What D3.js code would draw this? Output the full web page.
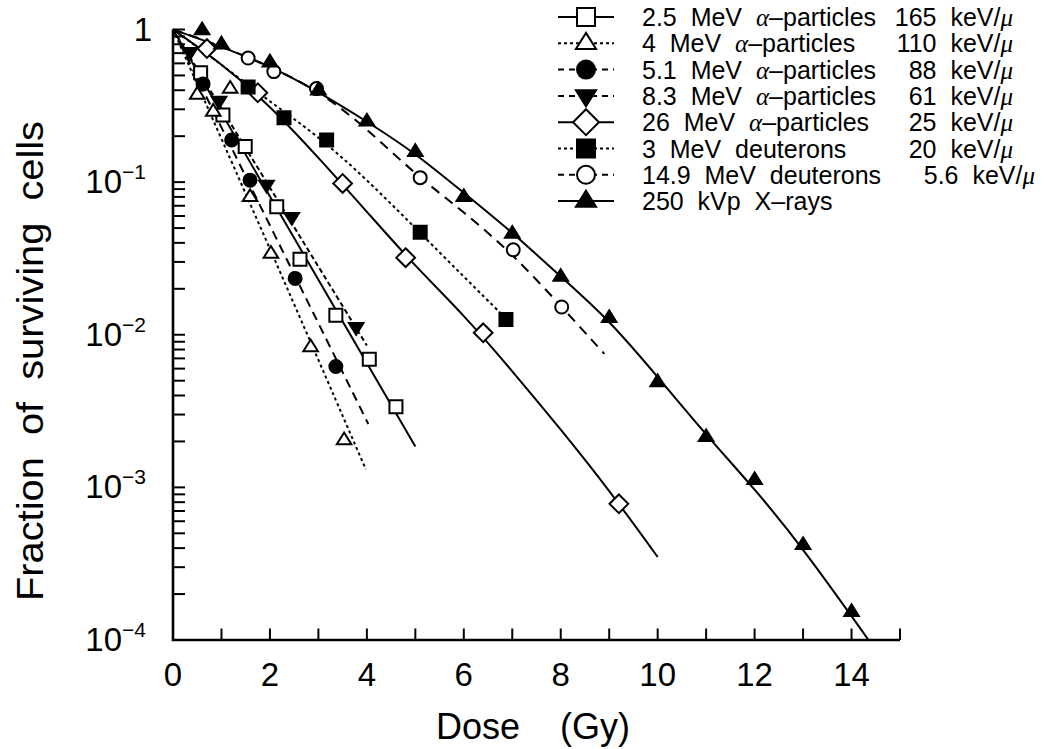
<!DOCTYPE html>
<html><head><meta charset="utf-8">
<script src="https://cdn.jsdelivr.net/npm/d3@7"></script>
<style>
body{margin:0;background:#fff}
text{font-family:"Liberation Sans",Arial,Helvetica,sans-serif;fill:#000}
</style>
</head><body>
<svg id="chart" width="1048" height="749"></svg>
<script>
// ---------------- DATA ----------------
const xTickValues = [0, 2, 4, 6, 8, 10, 12, 14];
const yDecadeExps = [0, -1, -2, -3, -4];

const seriesNames = ["2.5  MeV  α–particles", "4  MeV  α–particles", "5.1  MeV  α–particles",
  "8.3  MeV  α–particles", "26  MeV  α–particles", "3  MeV  deuterons", "14.9  MeV  deuterons", "250  kVp  X–rays"];
const seriesLET = ["165", "110", "88", "61", "25", "20", "5.6", ""];

// 2.5 MeV alpha (open square, solid)
const a25Dose = [0.57, 1.03, 1.49, 2.14, 2.62, 3.36, 4.05, 4.6];
const a25SF   = [0.52, 0.275, 0.171, 0.069, 0.0312, 0.0134, 0.0069, 0.00337];
const a25FitDose = [0, 2.5, 5.0];
const a25FitSF   = [1, 0.043, 0.00185];

// 4 MeV alpha (open triangle, dotted)
const a4Dose = [0.5, 0.83, 1.18, 1.59, 2.02, 2.84, 3.53];
const a4SF   = [0.375, 0.29, 0.41, 0.080, 0.034, 0.0083, 0.00204];
const a4FitDose = [0, 2.0, 3.98];
const a4FitSF   = [1, 0.037, 0.00131];

// 5.1 MeV alpha (filled circle, long dash)
const a51Dose = [0.62, 1.21, 1.59, 2.52, 3.36];
const a51SF   = [0.44, 0.189, 0.103, 0.0234, 0.0062];
const a51FitDose = [0, 2.0, 4.03];
const a51FitSF   = [1, 0.052, 0.0026];

// 8.3 MeV alpha (filled down triangle, short dash)
const a83Dose = [0.35, 0.95, 1.93, 2.45, 3.78];
const a83SF   = [0.71, 0.34, 0.096, 0.059, 0.0112];
const a83FitDose = [0, 2.0, 4.0];
const a83FitSF   = [1, 0.092, 0.0085];

// 26 MeV alpha (open diamond, solid)
const a26Dose = [0.7, 1.75, 3.5, 4.8, 6.4, 9.2];
const a26SF   = [0.75, 0.385, 0.098, 0.032, 0.0103, 0.00078];
const a26FitDose = [0, 1, 2, 3, 4, 5, 6, 7, 8, 9, 10];
const a26FitSF   = [1, 0.6, 0.317, 0.145, 0.064, 0.028, 0.0135, 0.0058, 0.0024, 0.00096, 0.00035];

// 3 MeV deuterons (filled square, dotted)
const d3Dose = [1.55, 2.29, 3.17, 5.1, 6.87];
const d3SF   = [0.42, 0.264, 0.189, 0.047, 0.0126];
const d3FitDose = [0, 1, 2, 3, 4, 5, 6, 6.9];
const d3FitSF   = [1, 0.59, 0.336, 0.2, 0.104, 0.05, 0.024, 0.0125];

// 14.9 MeV deuterons (open circle, dashed)
const d149Dose = [1.55, 2.08, 2.96, 5.1, 7.02, 8.02];
const d149SF   = [0.65, 0.53, 0.41, 0.107, 0.036, 0.0152];
const d149FitDose = [0, 1, 2, 3, 4, 5, 6, 7, 8, 8.9];
const d149FitSF   = [1, 0.78, 0.57, 0.40, 0.225, 0.112, 0.064, 0.034, 0.0155, 0.0075];

// 250 kVp X-rays (filled triangle, solid)
const xrDose = [0.6, 1, 2, 3, 4, 5, 6, 7, 8, 9, 10, 11, 12, 13, 14];
const xrSF   = [0.99, 0.80, 0.61, 0.40, 0.25, 0.158, 0.080, 0.046, 0.024, 0.0129, 0.0049, 0.00214, 0.00112, 0.00042, 0.000153];
const xrFitDose = [0, 1, 2, 3, 4, 5, 6, 7, 8, 9, 10, 11, 12, 13, 14.35];
const xrFitSF   = [1, 0.77, 0.58, 0.39, 0.25, 0.155, 0.085, 0.047, 0.024, 0.0125, 0.0053, 0.0022, 0.00098, 0.0004, 0.0001];

// ---------------- STYLE / LAYOUT ----------------
const seriesStyle = [
  {marker: "square",   filled: false, dash: null},
  {marker: "triUp",    filled: false, dash: "3,3"},
  {marker: "circle",   filled: true,  dash: "9,6"},
  {marker: "triDown",  filled: true,  dash: "5,3"},
  {marker: "diamond",  filled: false, dash: null},
  {marker: "square",   filled: true,  dash: "3,3"},
  {marker: "circle",   filled: false, dash: "10,7"},
  {marker: "triUp",    filled: true,  dash: null}
];
const seriesPts = [
  [a25Dose, a25SF, a25FitDose, a25FitSF],
  [a4Dose, a4SF, a4FitDose, a4FitSF],
  [a51Dose, a51SF, a51FitDose, a51FitSF],
  [a83Dose, a83SF, a83FitDose, a83FitSF],
  [a26Dose, a26SF, a26FitDose, a26FitSF],
  [d3Dose, d3SF, d3FitDose, d3FitSF],
  [d149Dose, d149SF, d149FitDose, d149FitSF],
  [xrDose, xrSF, xrFitDose, xrFitSF]
];

const svg = d3.select("#chart");
const x = d3.scaleLinear().domain([0, 15]).range([173, 900]);
const y = d3.scaleLog().domain([1e-4, 1]).range([640, 29.5]);

function markerPath(type, s) {
  const h = s / 2;
  switch (type) {
    case "square": return `M${-h},${-h}H${h}V${h}H${-h}Z`;
    case "circle": return `M${h},0A${h},${h} 0 1,1 ${-h},0A${h},${h} 0 1,1 ${h},0Z`;
    case "triUp": { const t = s * 0.58; return `M0,${-t}L${s*0.56},${t*0.55}L${-s*0.56},${t*0.55}Z`; }
    case "triDown": { const t = s * 0.58; return `M0,${t}L${s*0.56},${-t*0.55}L${-s*0.56},${-t*0.55}Z`; }
    case "diamond": { const d = s * 0.72; return `M0,${-d}L${d},0L0,${d}L${-d},0Z`; }
  }
}

// fit lines
const line = d3.line().x(d => x(d[0])).y(d => y(d[1])).curve(d3.curveBasis);
const gLines = svg.append("g");
seriesPts.forEach((sp, i) => {
  const pts = sp[2].map((d, k) => [d, sp[3][k]]);
  gLines.append("path").attr("d", line(pts)).attr("fill", "none")
    .attr("stroke", "#000").attr("stroke-width", 2)
    .attr("stroke-dasharray", seriesStyle[i].dash);
});

// axes
const ax = svg.append("g");
ax.append("path").attr("d", `M173,${y(1)}V640H900`).attr("fill", "none").attr("stroke", "#000").attr("stroke-width", 2.6);
d3.range(1, 16).forEach(v => {
  ax.append("line").attr("x1", x(v)).attr("x2", x(v)).attr("y1", 640).attr("y2", 628.5)
    .attr("stroke", "#000").attr("stroke-width", 2);
});
yDecadeExps.forEach(e => {
  const base = Math.pow(10, e);
  ax.append("line").attr("x1", 173).attr("x2", 185).attr("y1", y(base)).attr("y2", y(base)).attr("stroke", "#000").attr("stroke-width", 2);
  if (e > -4) {
    d3.range(2, 10).forEach(k => {
      const v = base * k / 10;
      ax.append("line").attr("x1", 173).attr("x2", 185).attr("y1", y(v)).attr("y2", y(v)).attr("stroke", "#000").attr("stroke-width", 2);
    });
  }
});
xTickValues.forEach(v => {
  ax.append("text").attr("x", x(v)).attr("y", 686).attr("text-anchor", "middle")
    .attr("font-size", 33).text(v);
});
yDecadeExps.forEach(e => {
  const t = ax.append("text").attr("y", y(Math.pow(10, e)) + 11).attr("font-size", 33);
  if (e === 0) {
    t.attr("x", 152).attr("text-anchor", "end").text("1");
  } else {
    t.attr("x", 146).attr("text-anchor", "end");
    t.append("tspan").text("10");
    t.append("tspan").attr("dy", -14).attr("font-size", 21).text("−" + (-e));
  }
});
// axis titles
svg.append("text").attr("transform", "translate(43,361) rotate(-90)").attr("text-anchor", "middle")
  .attr("font-size", 37).attr("textLength", 480).attr("lengthAdjust", "spacingAndGlyphs")
  .attr("style", "white-space:pre").text("Fraction  of  surviving  cells");
svg.append("text").attr("x", 533).attr("y", 739).attr("text-anchor", "middle")
  .attr("font-size", 36).attr("style", "white-space:pre").text("Dose    (Gy)");

// data markers
const gM = svg.append("g");
seriesPts.forEach((sp, i) => {
  const st = seriesStyle[i];
  sp[0].forEach((d, k) => {
    gM.append("path").attr("d", markerPath(st.marker, 13))
      .attr("transform", `translate(${x(d)},${y(sp[1][k])})`)
      .attr("fill", st.filled ? "#000" : "#fff").attr("stroke", "#000").attr("stroke-width", 2);
  });
});

// legend
const lg = svg.append("g");
seriesNames.forEach((name, i) => {
  const cy = 17 + i * 26.3;
  const st = seriesStyle[i];
  lg.append("line").attr("x1", 558).attr("x2", 614).attr("y1", cy).attr("y2", cy)
    .attr("stroke", "#000").attr("stroke-width", 2).attr("stroke-dasharray", st.dash ? (st.dash === "3,3" ? "3,3" : "6,5") : null);
  lg.append("path").attr("d", markerPath(st.marker, 18)).attr("transform", `translate(586,${cy})`)
    .attr("fill", st.filled ? "#000" : "#fff").attr("stroke", "#000").attr("stroke-width", 2);
  const t = lg.append("text").attr("x", 642).attr("y", cy + 9).attr("font-size", 25).attr("style", "white-space:pre");
  name.split(/(α)/).forEach(part => {
    const ts = t.append("tspan").text(part);
    if (part === "α") ts.attr("font-family", "Liberation Serif").attr("font-style", "italic");
  });
  if (seriesLET[i]) {
    const t2 = lg.append("text").attr("x", i === 6 ? 1035 : 1013).attr("y", cy + 9).attr("font-size", 25)
      .attr("text-anchor", "end").attr("style", "white-space:pre");
    t2.append("tspan").text(seriesLET[i] + "  keV/");
    t2.append("tspan").attr("font-family", "Liberation Serif").attr("font-style", "italic").text("μ");
  }
});
</script>
</body></html>
